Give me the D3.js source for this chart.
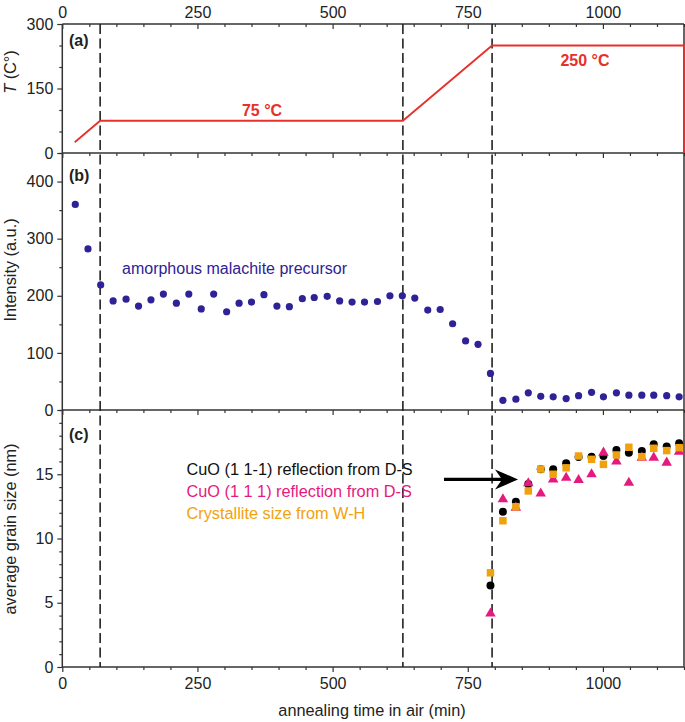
<!DOCTYPE html>
<html><head><meta charset="utf-8">
<script src="https://cdn.jsdelivr.net/npm/d3@7"></script>
<style>
body{margin:0;background:#fff;}
text{font-family:"Liberation Sans",Arial,sans-serif;}
</style></head>
<body><svg id="c" width="685" height="722"></svg>
<script>
// ---- data ----
const tempTime = [23, 70, 630, 795, 1150, 1150];
const tempVal  = [25, 75, 75, 250, 250, 0];
const phaseLines = [70, 630, 795];

const intTime = [24, 47.5, 71, 94, 118, 141, 164, 187, 211, 234, 257, 280, 304, 327, 350, 373, 397, 420, 444, 466, 490, 513, 536, 559, 583, 606, 629, 652, 676, 699, 722, 746, 769, 792, 815, 839, 862, 885, 908, 932, 955, 979, 1001, 1025, 1048, 1072, 1094, 1118, 1141];
const intVal  = [360, 282, 219, 191, 194, 182, 193, 203, 187, 203, 177, 203, 172, 187, 189, 202, 182, 181, 195, 197, 199, 191, 189, 189, 190, 200, 200, 196, 175, 176, 151, 121, 115, 64, 17, 19, 30, 24, 23, 20, 25, 31, 23, 30, 26, 26, 26, 25, 23];

const grainTime = [792, 815, 839, 862, 885, 908, 932, 955, 979, 1001, 1025, 1048, 1072, 1094, 1118, 1141];
const grain111m = [6.34, 12.08, 12.86, 14.24, 15.38, 15.38, 15.85, 16.35, 16.37, 16.42, 16.89, 16.68, 16.81, 17.33, 17.15, 17.41];
const grain111  = [4.16, 13.05, 12.4, 14.3, 13.5, 14.6, 14.73, 14.55, 15.0, 16.68, 16.0, 14.34, 16.29, 16.29, 15.9, 16.76];
const grainWH   = [7.33, 11.38, 12.47, 13.7, 15.4, 15.0, 15.5, 16.42, 16.16, 15.77, 16.5, 17.1, 16.37, 17.02, 16.84, 17.07];

const xTicksMajor = [0, 250, 500, 750, 1000];
const tempTicks = [0, 150, 300];
const intTicks = [0, 100, 200, 300, 400];
const grainTicks = [0, 5, 10, 15];
const legendLabels = ["CuO (1 1-1) reflection from D-S", "CuO (1 1 1) reflection from D-S", "Crystallite size from W-H"];
const arrowFrom = [706, 14.6], arrowTo = [843, 14.6];

// ---- layout ----
const svg = d3.select("#c");
const L = 62.3, R = 684;
const x = d3.scaleLinear().domain([0, 1150]).range([L, R]);
const yA = d3.scaleLinear().domain([0, 300]).range([153, 24]);
const yB = d3.scaleLinear().domain([0, 450]).range([410, 153]);
const yC = d3.scaleLinear().domain([0, 20]).range([667, 410]);
const axisCol = "#333";
const red = "#e8302a", blue = "#2e2296", pink = "#e6197f", orange = "#f0a20e";
const fmt = d3.format("d");

// minor / major horizontal ticks at each horizontal line
const minorX = d3.range(0, 1151, 50);
[24, 153, 410, 667].forEach(yy => {
  const g = svg.append("g").attr("transform", `translate(0,${yy})`);
  const ax = d3.axisBottom(x).tickValues(minorX).tickFormat("").tickSize(3).tickSizeOuter(0);
  g.call(ax); g.select(".domain").remove();
  g.selectAll("line").attr("stroke", axisCol).attr("stroke-width", 1.2)
    .attr("y2", d => xTicksMajor.includes(d) ? 5 : 3);
});
// bottom labels
const gb = svg.append("g").attr("transform", "translate(0,667)")
  .call(d3.axisBottom(x).tickValues(xTicksMajor).tickFormat(fmt).tickSize(0).tickPadding(11));
gb.select(".domain").remove();
gb.selectAll("text").attr("font-size", 16).attr("fill", "#222").attr("font-family", "Liberation Sans, Arial, sans-serif");
// top labels
const gt = svg.append("g").attr("transform", "translate(0,24)")
  .call(d3.axisTop(x).tickValues(xTicksMajor).tickFormat(fmt).tickSize(0).tickPadding(6));
gt.select(".domain").remove();
gt.selectAll("text").attr("font-size", 16).attr("fill", "#222").attr("font-family", "Liberation Sans, Arial, sans-serif");

// left axes
function leftAxis(scale, major, minorStep) {
  const [d0, d1] = scale.domain();
  const minors = d3.range(d0, d1 + 1e-9, minorStep);
  const g = svg.append("g").attr("transform", `translate(${L},0)`);
  g.call(d3.axisLeft(scale).tickValues(minors).tickSize(3).tickSizeOuter(0).tickFormat(""));
  g.select(".domain").remove();
  g.selectAll("line").attr("stroke", axisCol).attr("stroke-width", 1.2)
    .attr("x2", d => major.some(m => Math.abs(m - d) < 1e-6) ? -5 : -3);
  const g2 = svg.append("g").attr("transform", `translate(${L},0)`);
  g2.call(d3.axisLeft(scale).tickValues(major).tickFormat(fmt).tickSize(0).tickPadding(9));
  g2.select(".domain").remove();
  g2.selectAll("text").attr("font-size", 16).attr("fill", "#222").attr("font-family", "Liberation Sans, Arial, sans-serif");
}
leftAxis(yA, tempTicks, 50);
leftAxis(yB, intTicks, 50);
leftAxis(yC, grainTicks, 1);

// frame lines
svg.append("line").attr("x1", L).attr("x2", L).attr("y1", 24).attr("y2", 667).attr("stroke", axisCol).attr("stroke-width", 1.5);
svg.append("line").attr("x1", R).attr("x2", R).attr("y1", 24).attr("y2", 667).attr("stroke", axisCol).attr("stroke-width", 1.5);
[24, 153, 410, 667].forEach(yy =>
  svg.append("line").attr("x1", L).attr("x2", R).attr("y1", yy).attr("y2", yy).attr("stroke", axisCol).attr("stroke-width", 1.5));

// dashed phase lines
phaseLines.forEach(t =>
  svg.append("line").attr("x1", x(t)).attr("x2", x(t)).attr("y1", 24).attr("y2", 667)
    .attr("stroke", "#222").attr("stroke-width", 1.6).attr("stroke-dasharray", "10,4.5"));

// temperature
const tempData = tempTime.map((t, i) => [t, tempVal[i]]);
svg.append("path").datum(tempData)
  .attr("d", d3.line().x(d => x(d[0])).y(d => yA(d[1])))
  .attr("fill", "none").attr("stroke", red).attr("stroke-width", 1.8);
svg.append("text").attr("x", 262).attr("y", 116).attr("text-anchor", "middle").attr("font-size", 16).attr("font-weight", "bold").attr("fill", red).text("75 °C");
svg.append("text").attr("x", 585).attr("y", 66).attr("text-anchor", "middle").attr("font-size", 16).attr("font-weight", "bold").attr("fill", red).text("250 °C");

// intensity
svg.append("g").selectAll("circle").data(intTime.map((t, i) => [t, intVal[i]])).join("circle")
  .attr("cx", d => x(d[0])).attr("cy", d => yB(d[1])).attr("r", 3.6).attr("fill", blue);
svg.append("text").attr("x", 122).attr("y", 274).attr("font-size", 16).attr("fill", blue).text("amorphous malachite precursor");

// grain sizes
const gC = svg.append("g");
gC.selectAll("circle").data(grainTime.map((t, i) => [t, grain111m[i]])).join("circle")
  .attr("cx", d => x(d[0])).attr("cy", d => yC(d[1])).attr("r", 4).attr("fill", "#000");
const tri = d3.symbol().type(d3.symbolTriangle).size(48);
gC.append("g").selectAll("path").data(grainTime.map((t, i) => [t, grain111[i]])).join("path")
  .attr("d", tri).attr("transform", d => `translate(${x(d[0])},${yC(d[1])})`).attr("fill", pink);
const sq = d3.symbol().type(d3.symbolSquare).size(56);
gC.append("g").selectAll("path").data(grainTime.map((t, i) => [t, grainWH[i]])).join("path")
  .attr("d", sq).attr("transform", d => `translate(${x(d[0])},${yC(d[1])})`).attr("fill", orange);

// arrow
const ax0 = x(arrowFrom[0]), ay = yC(arrowFrom[1]), ax1 = x(arrowTo[0]);
svg.append("line").attr("x1", ax0).attr("x2", ax1 - 10).attr("y1", ay).attr("y2", ay).attr("stroke", "#000").attr("stroke-width", 3.2);
svg.append("path").attr("d", `M${ax1},${ay} L${ax1 - 23},${ay - 10} L${ax1 - 16},${ay} L${ax1 - 23},${ay + 10} Z`).attr("fill", "#000");

// legend text
const legCols = ["#111", pink, orange];
legendLabels.forEach((s, i) =>
  svg.append("text").attr("x", 186.5).attr("y", 475 + i * 22).attr("font-size", 16.3).attr("fill", legCols[i]).text(s));

// panel labels
[["(a)", 46], ["(b)", 181], ["(c)", 440]].forEach(([s, yy]) =>
  svg.append("text").attr("x", 69).attr("y", yy).attr("font-size", 16).attr("font-weight", "bold").attr("fill", "#222").text(s));

// axis titles
svg.append("text").attr("x", 372).attr("y", 716).attr("text-anchor", "middle").attr("font-size", 16.3).attr("fill", "#222").text("annealing time in air (min)");
function yTitle(cy, sel) {
  const t = svg.append("text").attr("transform", `translate(16,${cy}) rotate(-90)`).attr("text-anchor", "middle").attr("font-size", 16.3).attr("fill", "#222");
  sel(t);
}
yTitle(72, t => { t.append("tspan").attr("font-style", "italic").text("T"); t.append("tspan").text(" (C°)"); });
yTitle(270, t => t.text("Intensity (a.u.)"));
yTitle(529, t => t.text("average grain size (nm)"));
</script></body></html>
